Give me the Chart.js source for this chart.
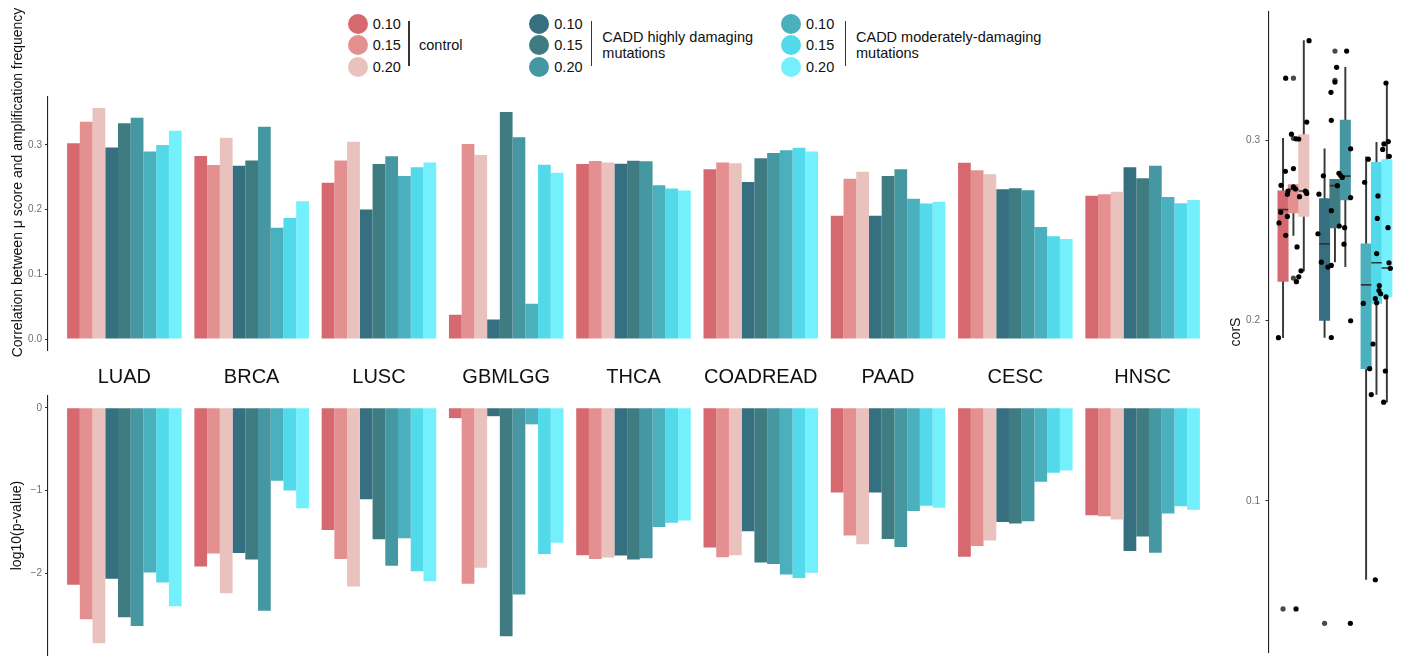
<!DOCTYPE html>
<html>
<head>
<meta charset="utf-8">
<title>μ score vs amplification frequency</title>
<script src="https://cdn.jsdelivr.net/npm/chart.js@4.4.1/dist/chart.umd.min.js"></script>
<style>
  html, body { margin: 0; padding: 0; background: #fff; }
  body { width: 1415px; height: 664px; position: relative; overflow: hidden;
         font-family: "Liberation Sans", Arial, Helvetica, sans-serif; color: #111; }
  canvas { position: absolute; display: block; }
  #corChart  { left: 0; top: 0; }
  #pvalChart { left: 0; top: 380px; }
  #boxChart  { left: 1225px; top: 0; }
  .lg-dot { position: absolute; width: 20px; height: 20px; border-radius: 50%; }
  .lg-txt { position: absolute; font-size: 14.5px; line-height: 18px; white-space: nowrap; color: #111; }
  .lg-bar { position: absolute; width: 1.2px; background: #333; }
  .lg-title { position: absolute; font-size: 14.5px; line-height: 16px; white-space: nowrap; color: #111; }
</style>
</head>
<body>
<div id="legend"></div>
<canvas id="corChart" width="1225" height="392"></canvas>
<canvas id="pvalChart" width="1225" height="284"></canvas>
<canvas id="boxChart" width="190" height="664"></canvas>
<script>
// ---- categories ----
const categories = ['LUAD', 'BRCA', 'LUSC', 'GBMLGG', 'THCA', 'COADREAD', 'PAAD', 'CESC', 'HNSC'];
const thresholds = ['0.10', '0.15', '0.20'];
const mutationSets = ['control', 'CADD highly damaging mutations', 'CADD moderately-damaging mutations'];

// ---- correlation between μ score and amplification frequency (per cancer type) ----
const corControl10  = [0.3025, 0.283, 0.2416, 0.0377, 0.2705, 0.2623, 0.1905, 0.2725, 0.2215];
const corControl15  = [0.336, 0.269, 0.276, 0.3015, 0.275, 0.273, 0.2478, 0.2607, 0.2236];
const corControl20  = [0.357, 0.311, 0.305, 0.2845, 0.273, 0.2716, 0.2587, 0.2545, 0.2277];
const corHigh10     = [0.296, 0.268, 0.200, 0.030, 0.271, 0.2426, 0.1905, 0.2313, 0.2653];
const corHigh15     = [0.3335, 0.276, 0.2705, 0.351, 0.2757, 0.2793, 0.2519, 0.2329, 0.2483];
const corHigh20     = [0.342, 0.328, 0.2824, 0.312, 0.2746, 0.2876, 0.2623, 0.2298, 0.2679];
const corModerate10 = [0.290, 0.172, 0.252, 0.0547, 0.2375, 0.2917, 0.2168, 0.173, 0.2195];
const corModerate15 = [0.300, 0.187, 0.2654, 0.2695, 0.2328, 0.2958, 0.2096, 0.1587, 0.2097];
const corModerate20 = [0.322, 0.213, 0.273, 0.257, 0.2297, 0.290, 0.2122, 0.1546, 0.2148];

// ---- log10(p-value) of the same correlations ----
const pvalControl10  = [-2.137, -1.918, -1.475, -0.125, -1.78, -1.686, -1.024, -1.8, -1.298];
const pvalControl15  = [-2.553, -1.761, -1.827, -2.125, -1.827, -1.804, -1.541, -1.67, -1.31];
const pvalControl20  = [-2.843, -2.239, -2.157, -1.933, -1.808, -1.78, -1.647, -1.604, -1.349];
const pvalHigh10     = [-2.063, -1.753, -1.106, -0.102, -1.784, -1.49, -1.024, -1.38, -1.729];
const pvalHigh15     = [-2.53, -1.831, -1.588, -2.76, -1.831, -1.867, -1.584, -1.396, -1.553];
const pvalHigh20     = [-2.635, -2.451, -1.906, -2.255, -1.816, -1.886, -1.682, -1.369, -1.749];
const pvalModerate10 = [-1.988, -0.882, -1.576, -0.2, -1.439, -2.012, -1.247, -0.894, -1.278];
const pvalModerate15 = [-2.11, -1.0, -1.973, -1.765, -1.388, -2.055, -1.184, -0.784, -1.188];
const pvalModerate20 = [-2.396, -1.212, -2.094, -1.631, -1.361, -1.992, -1.208, -0.757, -1.231];

// ---- corS distribution per mutation set (jittered points) ----
const corsControl = [0.3555, 0.3347, 0.3103, 0.3036, 0.301, 0.3009, 0.283, 0.2845, 0.2752, 0.2743, 0.2732, 0.272, 0.2702,
                     0.2689, 0.272, 0.2707, 0.2602, 0.2543, 0.2579, 0.2474, 0.241, 0.2277, 0.2217, 0.2244, 0.1906, 0.04];
const corsControlJitter = [0.376, -0.186, 0.32, -0.048, 0.063, 0.128, -0.193, 0, -0.299, 0, 0.048, -0.13, -0.145,
                           0.145, 0.289, 0.32, -0.306, -0.347, -0.145, -0.186, 0.087, 0.183, 0.072, 0.128, -0.361, 0.063];
const corsHigh = [0.3497, 0.3407, 0.3325, 0.3268, 0.3113, 0.2955, 0.2805, 0.2819, 0.2806, 0.2796, 0.275, 0.2703,
                  0.2684, 0.2611, 0.2526, 0.2517, 0.2483, 0.2425, 0.2325, 0.2298, 0.2307, 0.2, 0.1907, 0.032];
const corsHighJitter = [0.281, 0.04, 0, -0.096, -0.088, 0.378, -0.28, 0.096, 0.137, 0.178, 0.057, -0.385,
                        0.378, -0.088, 0.104, 0.233, -0.41, 0.217, -0.328, -0.169, -0.088, 0.378, -0.088, 0.371];
const corsModerate = [0.332, 0.2995, 0.2982, 0.2951, 0.2913, 0.2897, 0.2769, 0.2693, 0.2568, 0.2517, 0.2373, 0.2322, 0.2291,
                      0.2195, 0.2168, 0.215, 0.2123, 0.21, 0.2132, 0.2096, 0.1871, 0.1734, 0.1721, 0.159, 0.1548, 0.0562];
const corsModerateJitter = [0.229, 0.285, 0.181, 0.149, 0.309, -0.197, -0.285, 0.036, 0.02, 0.277, 0.004, 0.301, 0.333,
                            0.068, 0.06, 0.1, -0.028, 0.004, 0.229, -0.317, -0.084, -0.165, 0.213, -0.125, 0.173, -0.028];

// ---- box summaries, order: control 0.10/0.15/0.20, highly 0.10/0.15/0.20, moderately 0.10/0.15/0.20 ----
const boxLow    = [0.1906, 0.2474, 0.2277, 0.1907, 0.2327, 0.2300, 0.0564, 0.1591, 0.1548];
const boxQ1     = [0.2219, 0.2599, 0.2579, 0.2002, 0.2515, 0.2671, 0.1734, 0.2096, 0.2132];
const boxMedian = [0.2617, 0.2730, 0.2720, 0.2427, 0.2750, 0.2803, 0.2199, 0.2322, 0.2293];
const boxQ3     = [0.2722, 0.2756, 0.3033, 0.2678, 0.2785, 0.3114, 0.2427, 0.2879, 0.2895];
const boxHigh   = [0.3013, 0.2756, 0.3555, 0.2955, 0.2785, 0.3407, 0.2910, 0.2991, 0.3320];
const boxOutliers = [[0.04], [0.3347, 0.3013, 0.2237], [], [0.032], [0.3497, 0.3335], [], [], [], []];

// ---------------------------------------------------------------------------
const FONT = '"Liberation Sans", Arial, Helvetica, sans-serif';
Chart.defaults.font.family = FONT;
Chart.defaults.animation = false;

const seriesColors = ['#D6696F', '#E59090', '#E9C1BD',
                      '#366F80', '#3F7C82', '#4597A1',
                      '#4AB0BE', '#53DAEA', '#74F0FD'];
const corSeries  = [corControl10, corControl15, corControl20, corHigh10, corHigh15, corHigh20,
                    corModerate10, corModerate15, corModerate20];
const pvalSeries = [pvalControl10, pvalControl15, pvalControl20, pvalHigh10, pvalHigh15, pvalHigh20,
                    pvalModerate10, pvalModerate15, pvalModerate20];
const seriesNames = [];
mutationSets.forEach(m => thresholds.forEach(t => seriesNames.push(m + ' ' + t)));

// ---- legend ----
const legendLayout = [
  { cx: 357.7, bar: 409.0, text: 419.0, lines: ['control'] },
  { cx: 539.3, bar: 591.7, text: 602.3, lines: ['CADD highly damaging', 'mutations'] },
  { cx: 791.0, bar: 845.5, text: 856.0, lines: ['CADD moderately-damaging', 'mutations'] }
];
const legendRows = [24.0, 45.3, 66.6];
const legendEl = document.getElementById('legend');
legendLayout.forEach((g, gi) => {
  thresholds.forEach((t, ti) => {
    const dot = document.createElement('div');
    dot.className = 'lg-dot';
    dot.style.left = (g.cx - 10) + 'px';
    dot.style.top = (legendRows[ti] - 10) + 'px';
    dot.style.background = seriesColors[gi * 3 + ti];
    legendEl.appendChild(dot);
    const lab = document.createElement('div');
    lab.className = 'lg-txt';
    lab.style.left = (g.cx + 15) + 'px';
    lab.style.top = (legendRows[ti] - 9) + 'px';
    lab.textContent = t;
    legendEl.appendChild(lab);
  });
  const bar = document.createElement('div');
  bar.className = 'lg-bar';
  bar.style.left = (g.bar - 0.6) + 'px';
  bar.style.top = '21px';
  bar.style.height = '44.7px';
  legendEl.appendChild(bar);
  const title = document.createElement('div');
  title.className = 'lg-title';
  title.style.left = g.text + 'px';
  title.style.top = (45.2 - g.lines.length * 8) + 'px';
  title.innerHTML = g.lines.join('<br>');
  legendEl.appendChild(title);
});

// rotated axis title placed at a fixed spot of the canvas
const sideTitle = {
  id: 'sideTitle',
  afterDraw(chart, args, opts) {
    if (!opts || !opts.text) return;
    const ctx = chart.ctx;
    ctx.save();
    ctx.translate(opts.x, opts.y);
    ctx.rotate(-Math.PI / 2);
    ctx.font = opts.size + 'px ' + FONT;
    ctx.fillStyle = '#111';
    ctx.textAlign = 'center';
    ctx.textBaseline = 'middle';
    ctx.fillText(opts.text, 0, 0);
    ctx.restore();
  }
};

// ---- shared axis styling ----
const yGrid = { display: true, drawOnChartArea: false, drawTicks: true, tickLength: 3, color: '#333', lineWidth: 1 };
const yBorder = { display: true, color: '#222', width: 1.1 };
const tickFont = { size: 10 };
const tickColor = '#6e6e6e';

function barDatasets(series) {
  return series.map((vals, s) => ({
    label: seriesNames[s],
    data: vals.map((v, i) => ({ x: i, y: v })),
    backgroundColor: seriesColors[s],
    borderWidth: 0,
    categoryPercentage: 0.9,
    barPercentage: 1
  }));
}

// ---- top: correlation bars ----
new Chart(document.getElementById('corChart'), {
  type: 'bar',
  data: { datasets: barDatasets(corSeries) },
  plugins: [sideTitle],
  options: {
    responsive: false,
    devicePixelRatio: 1,
    layout: { padding: { left: 0, right: 6, top: 96.4, bottom: 0 } },
    plugins: {
      legend: { display: false }, tooltip: { enabled: false },
      sideTitle: { text: 'Correlation between μ score and amplification frequency', x: 18, y: 182.5, size: 14 }
    },
    scales: {
      x: {
        type: 'linear', min: -0.6, max: 8.6, offset: false,
        grid: { display: false, drawTicks: false, offset: false },
        border: { display: false },
        ticks: {
          stepSize: 1, includeBounds: false, autoSkip: false, maxRotation: 0,
          padding: 15, color: '#111', font: { size: 20 },
          callback: v => (categories[v] !== undefined ? categories[v] : '')
        },
        afterFit: s => { s.height = 41.4; }
      },
      y: {
        min: -0.0179, max: 0.375,
        grid: yGrid, border: yBorder,
        ticks: { stepSize: 0.1, includeBounds: false, padding: 3, color: tickColor, font: tickFont,
                 callback: v => Number(v).toFixed(1) },
        afterFit: s => { s.width = 48; }
      }
    }
  }
});

// ---- bottom: log10(p-value) bars ----
new Chart(document.getElementById('pvalChart'), {
  type: 'bar',
  data: { datasets: barDatasets(pvalSeries) },
  options: {
    responsive: false,
    devicePixelRatio: 1,
    layout: { padding: { left: 0, right: 6, top: 16, bottom: 2.3 } },
    plugins: { legend: { display: false }, tooltip: { enabled: false } },
    scales: {
      x: {
        type: 'linear', min: -0.6, max: 8.6, offset: false, display: false,
        grid: { offset: false },
        ticks: { stepSize: 1, includeBounds: false }
      },
      y: {
        min: -2.985, max: 0.142,
        grid: yGrid, border: yBorder,
        ticks: { stepSize: 1, includeBounds: false, padding: 3, color: tickColor, font: tickFont,
                 callback: v => (Math.abs(v) < 1e-9 ? '0' : (v < 0 ? '\u2212' : '') + Math.abs(Math.round(v))) },
        title: { display: true, text: 'log10(p-value)', color: '#111', font: { size: 14 },
                 padding: { top: 9, bottom: 0 } },
        afterFit: s => { s.width = 48; }
      }
    }
  }
});

// ---- right: corS boxplots per mutation set ----
const boxOffsets = [-0.25, 0, 0.25];
const boxX = [];
mutationSets.forEach((m, g) => boxOffsets.forEach(o => boxX.push(g + o)));

const outlierPoints = [];
boxOutliers.forEach((list, k) => list.forEach(v => outlierPoints.push({ x: boxX[k], y: v })));

const jitterPoints = [];
[[corsControl, corsControlJitter], [corsHigh, corsHighJitter], [corsModerate, corsModerateJitter]]
  .forEach(([vals, jit], g) => vals.forEach((v, i) => jitterPoints.push({ x: g + jit[i], y: v })));

new Chart(document.getElementById('boxChart'), {
  type: 'bar',
  data: {
    datasets: [
      { // whiskers
        type: 'bar', order: 5, grouped: false, barThickness: 1.3,
        data: boxX.map((x, k) => ({ x, y: [boxLow[k], boxHigh[k]] })),
        backgroundColor: '#3a3a3a', borderWidth: 0
      },
      { // boxes
        type: 'bar', order: 4, grouped: false, categoryPercentage: 1, barPercentage: 1,
        data: boxX.map((x, k) => ({ x, y: [boxQ1[k], boxQ3[k]] })),
        backgroundColor: seriesColors, borderWidth: 0
      },
      { // medians
        type: 'scatter', order: 3,
        data: boxX.map((x, k) => ({ x, y: boxMedian[k] })),
        pointStyle: 'line', pointRadius: 5.2, pointBorderColor: '#333', pointBorderWidth: 1.6,
        pointHoverRadius: 5.2
      },
      { // outliers
        type: 'scatter', order: 2,
        data: outlierPoints,
        pointStyle: 'circle', pointRadius: 2.6, pointBackgroundColor: '#484848', pointBorderWidth: 0
      },
      { // jittered observations
        type: 'scatter', order: 1,
        data: jitterPoints,
        pointStyle: 'circle', pointRadius: 2.6, pointBackgroundColor: '#000', pointBorderWidth: 0
      }
    ]
  },
  options: {
    responsive: false,
    devicePixelRatio: 1,
    layout: { padding: { left: 0, right: 13.6, top: 6.2, bottom: 2 } },
    plugins: { legend: { display: false }, tooltip: { enabled: false } },
    scales: {
      x: {
        type: 'linear', min: -0.6, max: 2.6, offset: false, display: false,
        grid: { offset: false },
        ticks: { stepSize: 1, includeBounds: false }
      },
      y: {
        min: 0.0158, max: 0.3717,
        grid: yGrid, border: yBorder,
        ticks: { stepSize: 0.1, includeBounds: false, padding: 5.5, color: tickColor, font: tickFont,
                 callback: v => Number(v).toFixed(1) },
        title: { display: true, text: 'corS', color: '#111', font: { size: 14 }, padding: { top: 2.3, bottom: 0 } },
        afterFit: s => { s.width = 43.5; }
      }
    }
  }
});
</script>
</body>
</html>
